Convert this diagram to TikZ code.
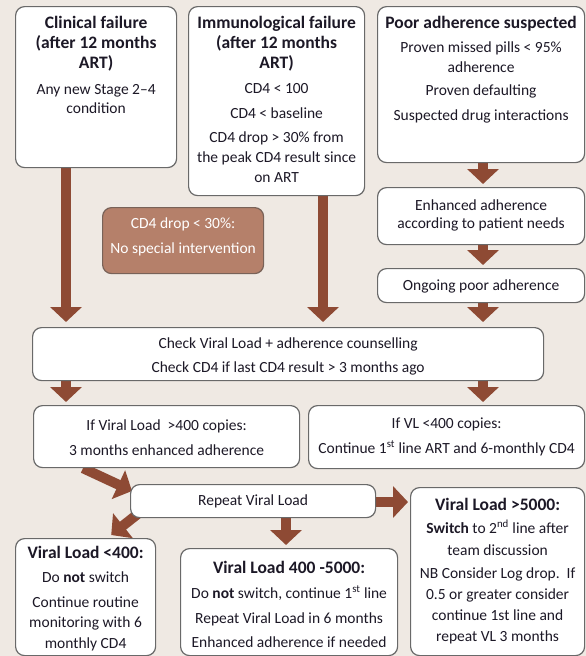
\documentclass[tikz,border=0pt]{standalone}
\usepackage{fontspec}
\setmainfont{Carlito}
\usetikzlibrary{arrows.meta}
\definecolor{bgc}{RGB}{239,233,227}
\definecolor{arrc}{RGB}{142,74,52}
\definecolor{brownbox}{RGB}{181,128,106}
\definecolor{brownedge}{RGB}{120,98,88}
\definecolor{edgec}{RGB}{105,105,105}
\definecolor{txtc}{RGB}{28,24,38}
\pgfdeclarelayer{bglayer}
\pgfdeclarelayer{arrlayer}
\pgfsetlayers{bglayer,arrlayer,main}
\newcommand\ttl[1]{{\fontsize{17.5}{20}\selectfont\bfseries #1}}
% style, name, x1, y1, x2, y2, first-baseline offset, content
\newcommand\mkbox[8]{%
  \node[#1, anchor=north west] (#2) at (#3,#4) {\parbox[t][\dimexpr #6pt-#4pt\relax][t]{\dimexpr #5pt-#3pt\relax}{\centering\fontsize{15.5}{20}\selectfont\vspace*{\dimexpr #7pt-14pt\relax}\strut #8\par}};%
}
\tikzset{
  box/.style={draw=edgec, fill=white, rounded corners=9pt, line width=1.2pt, inner sep=0pt, text=txtc},
  brownnode/.style={draw=brownedge, fill=brownbox, rounded corners=9pt, line width=1.2pt, inner sep=0pt, text=white},
  arr/.style={draw=arrc, line width=10pt, -{Triangle[width=31pt,length=15pt]}}
}
\begin{document}
\begin{tikzpicture}[x=1pt,y=-1pt]
\begin{pgfonlayer}{bglayer}
\fill[bgc] (0,0) rectangle (586,656);
\end{pgfonlayer}
\useasboundingbox (0,0) rectangle (586,656);

\mkbox{box}{A}{15}{6}{176}{167}{22}{\ttl{Clinical failure\\(after 12 months\\ART)}\\[5.5pt]Any new Stage 2–4\\[-1pt]condition}
\mkbox{box}{B}{188}{6}{364}{195}{22}{\ttl{Immunological failure\\(after 12 months\\ART)}\\[4.5pt]CD4 < 100\\[5pt]CD4 < baseline\\[4pt]CD4 drop > 30\% from\\the peak CD4 result since\\on ART}
\mkbox{box}{C}{377}{6}{584}{162}{22}{\ttl{Poor adherence suspected}\\[3.5pt]Proven missed pills < 95\%\\adherence\\[3pt]Proven defaulting\\[5pt]Suspected drug interactions}
\mkbox{box}{D}{377}{187}{584}{244}{22.5}{Enhanced adherence\\[-2pt]according to patient needs}
\mkbox{box}{E}{377}{268}{584}{302}{21.5}{Ongoing poor adherence}
\mkbox{brownnode}{Br}{102}{207}{263}{273}{20.5}{CD4 drop < 30\%:\\[5pt]No special intervention}
\mkbox{box}{F}{32}{327}{543}{380}{20.5}{Check Viral Load + adherence counselling\\[4pt]Check CD4 if last CD4 result > 3 months ago}
\mkbox{box}{G}{33}{405}{299}{467}{24.5}{If Viral Load \ >400 copies:\\[5pt]3 months enhanced adherence}
\mkbox{box}{H}{308}{405}{584}{468}{22.5}{If VL <400 copies:\\[5pt]Continue 1\textsuperscript{st} line ART and 6-monthly CD4}
\mkbox{box}{I}{130}{484}{375}{517}{20.5}{Repeat Viral Load}
\mkbox{box}{J}{15}{538}{155}{655}{20}{\ttl{Viral Load <400:}\\[3.5pt]Do \textbf{not} switch\\[5pt]Continue routine\\monitoring with 6\\[1pt]monthly CD4}
\mkbox{box}{K}{180}{548}{397}{655}{25}{\ttl{Viral Load 400 -5000:}\\[4.5pt]Do \textbf{not} switch, continue 1\textsuperscript{st} line\\[5pt]Repeat Viral Load in 6 months\\[4pt]Enhanced adherence if needed}
\mkbox{box}{L}{410}{487}{584}{655}{23}{\ttl{Viral Load >5000:}\\[2.5pt]\textbf{Switch} to 2\textsuperscript{nd} line after\\[2pt]team discussion\\[3pt]NB Consider Log drop.\ \ If\\[1pt]0.5 or greater consider\\[1pt]continue 1st line and\\[1pt]repeat VL 3 months}

\coordinate (cx66) at (66,0);
\coordinate (cx323) at (323,0);
\coordinate (cx483) at (483,0);
\coordinate (cx286) at (286,0);
\coordinate (cx83) at (83,0);
\coordinate (cy502) at (0,502);

\begin{pgfonlayer}{arrlayer}
\draw[arr, shorten >=5pt] (A.south -| cx66) -- (F.north -| cx66);
\draw[arr, shorten >=5pt] (B.south -| cx323) -- (F.north -| cx323);
\draw[arr, shorten >=3pt] (C.south -| cx483) -- (D.north -| cx483);
\draw[arr, shorten >=3pt] (D.south -| cx483) -- (E.north -| cx483);
\draw[arr, shorten >=5pt] (E.south -| cx483) -- (F.north -| cx483);
\draw[arr, shorten >=3pt] (F.south -| cx66) -- (G.north -| cx66);
\draw[arr, shorten >=3pt] (F.south -| cx483) -- (H.north -| cx483);
\draw[arr] (G.south -| cx83) -- ([xshift=2pt,yshift=-7pt]I.north west);
\draw[arr] ([xshift=10pt,yshift=6pt]I.south west) -- ([xshift=-45pt,yshift=3pt]J.north east);
\draw[arr, shorten >=3pt] (I.south -| cx286) -- (K.north -| cx286);
\draw[arr, shorten >=2pt] (I.east |- cy502) -- (L.west |- cy502);
\end{pgfonlayer}
\end{tikzpicture}
\end{document}
